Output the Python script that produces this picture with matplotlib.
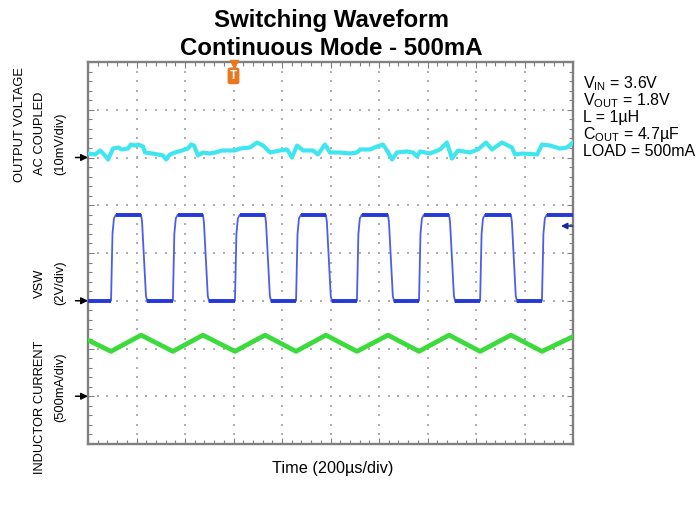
import matplotlib
matplotlib.use('Agg')
import matplotlib.pyplot as plt
import numpy as np

plt.rcParams['font.family'] = ['Liberation Sans', 'DejaVu Sans']

# ---- data read from the scope capture (time in us, 200 us/div) ----
# output voltage, AC coupled (mV)
vout_t = [0, 29, 50, 70, 83, 103, 124, 140, 165, 177, 194, 206, 227, 235, 264,
          289, 309, 322, 338, 359, 388, 412, 425, 437, 454, 474, 503, 524, 553,
          606, 627, 668, 697, 722, 751, 792, 821, 841, 862, 887, 928, 948, 977,
          998, 1039, 1080, 1109, 1122, 1163, 1192, 1216, 1233, 1254, 1274, 1315,
          1340, 1357, 1369, 1410, 1452, 1480, 1501, 1526, 1575, 1608, 1641, 1666,
          1707, 1732, 1748, 1761, 1794, 1852, 1872, 1905, 1946, 1975, 2000]
vout_mv = [0.84, 0.63, 1.47, 0.42, -0.42, 1.88, 2.09, 1.68, 1.88, 2.72, 2.51,
           2.72, 2.30, 1.05, 0.84, 0.63, 0.42, -0.42, 0.63, 1.05, 1.47, 1.88,
           2.72, 2.51, 0.42, 1.05, 0.84, 1.05, 1.47, 1.47, 1.88, 2.09, 3.14,
           2.51, 1.05, 1.47, 1.68, 0.00, 2.51, 1.47, 1.47, 0.63, 2.72, 1.05,
           1.05, 0.84, 1.05, 1.68, 1.68, 2.30, 2.72, 1.47, -0.42, 1.05, 1.26,
           1.05, 0.21, 1.26, 0.84, 1.68, 3.14, -0.21, 1.47, 1.05, 1.68, 3.14,
           1.68, 3.14, 2.51, 2.09, 0.63, 0.84, 0.63, 2.72, 2.51, 1.88, 2.09, 3.14]

# switch node: edge times (us) and levels (V)
vsw_rise = [95, 350, 606, 858, 1109, 1365, 1617, 1872]
vsw_fall = [219, 474, 730, 981, 1237, 1489, 1744]
vsw_low = 0.0
vsw_high = 3.6

# inductor current vertices (mA)
il_t = [0, 95, 219, 350, 474, 606, 730, 858, 981, 1109, 1237, 1365, 1489,
        1617, 1744, 1872, 2000]
il_ma = [588, 470, 640, 470, 640, 470, 640, 470, 640, 470, 640, 470, 640,
         470, 640, 470, 625]

trig_t = 600
trig_level_v = 3.13

# channel scaling: ground position (div) and units per div
CH_VOUT = (6.0, 10.0)
CH_VSW = (3.0, 2.0)
CH_IL = (1.0, 500.0)

COL_VOUT = '#3FE6F0'
COL_VSW = '#2438DC'
COL_IL = '#3CDB3C'
COL_FRAME = '#808080'


def to_div(vals, ch):
    return [ch[0] + v / ch[1] for v in vals]


fig = plt.figure(figsize=(6.97, 5.08), dpi=100)
W, H = 697, 508
ax = fig.add_axes([88 / W, 1 - 444 / H, (573 - 88) / W, (444 - 62) / H])
ax.set_xlim(0, 2000)
ax.set_ylim(0, 8)

# frame and ticks
for s in ax.spines.values():
    s.set_color(COL_FRAME)
    s.set_linewidth(1.7)
ax.set_xticks(np.arange(0, 2001, 200))
ax.set_xticks(np.arange(0, 2001, 40), minor=True)
ax.set_yticks(np.arange(0, 9, 1))
ax.set_yticks(np.arange(0, 8.01, 0.2), minor=True)
ax.tick_params(which='both', direction='in', top=True, right=True,
               labelbottom=False, labelleft=False, color=COL_FRAME, width=0.8)
ax.tick_params(which='major', length=4)
ax.tick_params(which='minor', length=3)

# dotted graticule
gx = np.arange(40, 2000, 40)
for yy in range(1, 8):
    ax.scatter(gx, np.full(len(gx), yy), s=2.0, marker='s', color='#B0B0B0',
               linewidths=0, zorder=1)
gy = np.arange(0.2, 8, 0.2)
for xx in range(200, 2000, 200):
    ax.scatter(np.full(len(gy), xx), gy, s=2.0, marker='s', color='#B0B0B0',
               linewidths=0, zorder=1)

# output voltage trace
ax.plot(vout_t, to_div(vout_mv, CH_VOUT), color=COL_VOUT, lw=3.0,
        solid_joinstyle='round', zorder=3)

# switch node trace built from the edge list
bt, bv = [0], [vsw_low]
flats = [(0, vsw_rise[0], vsw_low)]
for i, r in enumerate(vsw_rise):
    bt += [r, r + 6, r + 12, r + 20]
    bv += [vsw_low, 2.8, 3.45, vsw_high]
    if i < len(vsw_fall):
        f = vsw_fall[i]
        bt += [f, f + 4, f + 20, f + 26]
        bv += [vsw_high, 3.3, 0.2, -0.05]
        flats.append((r + 20, f, vsw_high))
        flats.append((f + 26, vsw_rise[i + 1], vsw_low))
    else:
        flats.append((r + 20, 2000, vsw_high))
bt.append(2000)
bv.append(vsw_high)
ax.plot(bt, to_div(bv, CH_VSW), color='#4C5DEA', lw=1.3, zorder=3)
for t0, t1, lvl in flats:
    ax.plot([t0, t1], to_div([lvl, lvl], CH_VSW), color=COL_VSW, lw=2.8,
            solid_capstyle='butt', zorder=4)

# inductor current trace
ax.plot(il_t, to_div(il_ma, CH_IL), color=COL_IL, lw=3.4,
        solid_joinstyle='round', zorder=3)

# channel ground markers
for ch in (CH_VOUT, CH_VSW, CH_IL):
    ax.annotate('', xy=(0, ch[0]), xytext=(-9, 0), textcoords='offset points',
                annotation_clip=False,
                arrowprops=dict(arrowstyle='-|>', color='black', lw=1.1,
                                mutation_scale=10, shrinkA=0, shrinkB=0))

# trigger level marker (right side)
lvl = to_div([trig_level_v], CH_VSW)[0]
ax.annotate('', xy=(1950, lvl), xytext=(1998, lvl),
            arrowprops=dict(arrowstyle='-|>', color='#1A2A9E', lw=1.2,
                            mutation_scale=9, shrinkA=0, shrinkB=0), zorder=5)

# trigger position marker
ax.plot(trig_t, 7.96, marker='v', ms=6, color='#E8771E', clip_on=False,
        zorder=6)
ax.text(trig_t, 7.71, 'T', color='white', fontsize=8.5, fontweight='bold',
        ha='center', va='center', zorder=6,
        bbox=dict(boxstyle='round,pad=0.2', fc='#E8771E', ec='none'))

# ---- text ----
fig.text(331 / W, 1 - 27 / H, 'Switching Waveform', ha='center',
         va='baseline', fontsize=17.3, fontweight='bold')
fig.text(331 / W, 1 - 55 / H, 'Continuous Mode - 500mA', ha='center',
         va='baseline', fontsize=17.3, fontweight='bold')

left_labels = [
    ('OUTPUT VOLTAGE', 20, 125),
    ('AC COUPLED', 40, 133),
    ('(10mV/div)', 60, 144),
    ('VSW', 40, 283),
    ('(2V/div)', 60, 283),
    ('INDUCTOR CURRENT', 40, 407),
    ('(500mA/div)', 60, 387),
]
for txt, x, y in left_labels:
    fig.text(x / W, 1 - y / H, txt, rotation=90, ha='center', va='center',
             fontsize=9.3)

cond = [
    r'$\mathregular{V_{IN}}$ = 3.6V',
    r'$\mathregular{V_{OUT}}$ = 1.8V',
    'L = 1µH',
    r'$\mathregular{C_{OUT}}$ = 4.7µF',
    'LOAD = 500mA',
]
for i, txt in enumerate(cond):
    fig.text(583 / W, 1 - (88 + 17 * i) / H, txt, ha='left', va='baseline',
             fontsize=11.5)

fig.text(333 / W, 1 - 473 / H, 'Time (200µs/div)', ha='center',
         va='baseline', fontsize=11.7)

fig.savefig('out.png', dpi=100)
